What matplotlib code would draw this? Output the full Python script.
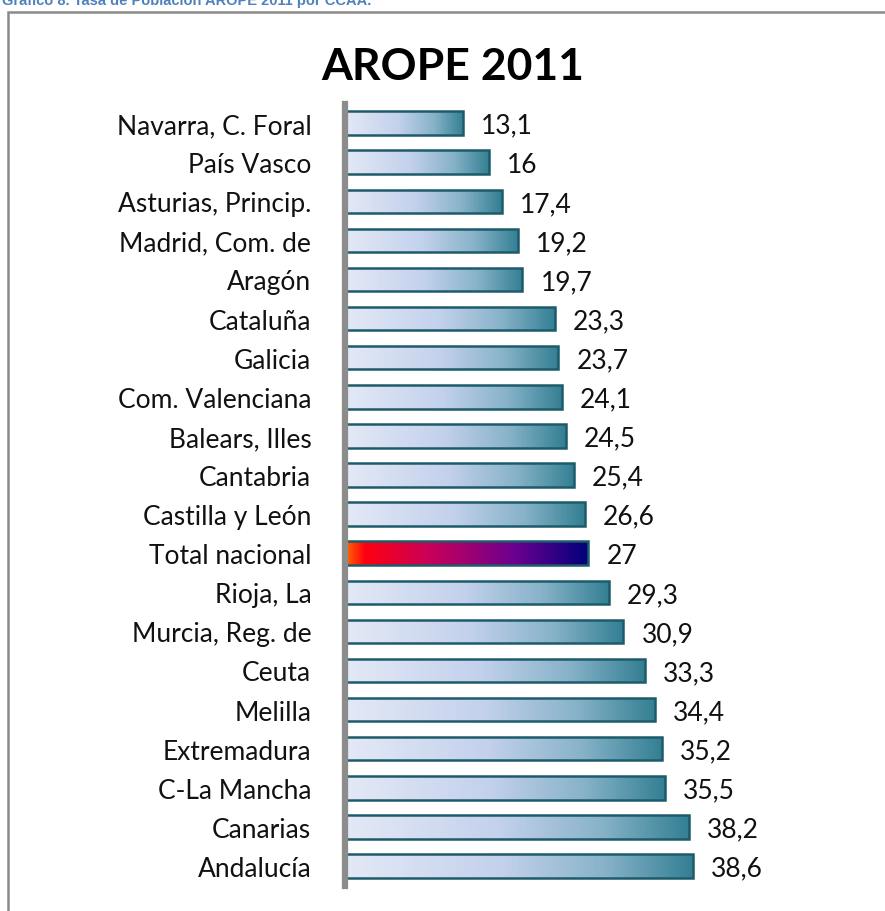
import numpy as np
import matplotlib
matplotlib.use("Agg")
import matplotlib.pyplot as plt
from matplotlib.colors import LinearSegmentedColormap
from matplotlib.patches import Rectangle

plt.rcParams['font.family'] = ['Lato', 'DejaVu Sans']

regiones = ["Navarra, C. Foral", "País Vasco", "Asturias, Princip.", "Madrid, Com. de",
            "Aragón", "Cataluña", "Galicia", "Com. Valenciana", "Balears, Illes",
            "Cantabria", "Castilla y León", "Total nacional", "Rioja, La",
            "Murcia, Reg. de", "Ceuta", "Melilla", "Extremadura", "C-La Mancha",
            "Canarias", "Andalucía"]
valores = [13.1, 16, 17.4, 19.2, 19.7, 23.3, 23.7, 24.1, 24.5, 25.4, 26.6, 27,
           29.3, 30.9, 33.3, 34.4, 35.2, 35.5, 38.2, 38.6]
etiquetas = ["13,1", "16", "17,4", "19,2", "19,7", "23,3", "23,7", "24,1", "24,5",
             "25,4", "26,6", "27", "29,3", "30,9", "33,3", "34,4", "35,2", "35,5",
             "38,2", "38,6"]

azul = LinearSegmentedColormap.from_list(
    "azul", [(0, "#e4e9f6"), (0.45, "#c3d1ec"), (0.75, "#86b2c8"), (1, "#337f93")])
total = LinearSegmentedColormap.from_list(
    "total", [(0, "#ff6a00"), (0.08, "#ff0010"), (0.35, "#c8005a"), (0.7, "#6a0090"), (1, "#00007a")])

fig = plt.figure(figsize=(8.85, 9.12), dpi=100)
ax = fig.add_axes([0.3895, 0.0279, 0.5095, 0.8575])

y = np.arange(len(regiones))
bars = ax.barh(y, valores, height=0.6, facecolor="none", edgecolor="#1d5b6b",
               linewidth=1.8, zorder=3)
grad = np.linspace(0, 1, 256).reshape(1, -1)
for i, b in enumerate(bars):
    cmap = total if regiones[i] == "Total nacional" else azul
    x0, y0, w, h = b.get_x(), b.get_y(), b.get_width(), b.get_height()
    im = ax.imshow(grad, cmap=cmap, aspect="auto", extent=[x0, x0 + w, y0, y0 + h],
                   zorder=2, interpolation="bicubic")
    im.set_clip_path(b)
    ax.annotate(etiquetas[i], (valores[i], i), xytext=(13, -1.5), textcoords="offset points",
                va="center", ha="left", fontsize=19, color="#111111")

ax.set_xlim(0, 50)
ax.set_ylim(len(regiones) - 0.5, -0.5)
ax.set_yticks(y)
ax.set_yticklabels(regiones, fontsize=19, color="#111111")
ax.tick_params(axis="y", length=0, pad=24)
ax.set_xticks([])
for s in ["top", "right", "bottom"]:
    ax.spines[s].set_visible(False)
ax.spines["left"].set_color("#8c8c8c")
ax.spines["left"].set_linewidth(4.5)
ax.spines["left"].set_zorder(5)

fig.text(0.511, 1 - 67 / 912, "AROPE 2011", ha="center", va="center", fontsize=32,
         fontweight="bold", color="#000000")
fig.text(0.002, 1 - 5 / 912, "Gráfico 8. Tasa de Población AROPE 2011 por CCAA.",
         ha="left", va="baseline", fontsize=10.5, fontweight="bold", color="#4f81bd",
         family=["Liberation Sans", "DejaVu Sans"])
fig.patches.append(Rectangle((8 / 885, -0.05), 1.1, 1 - 13 / 912 + 0.05,
                             transform=fig.transFigure, fill=False,
                             edgecolor="#8a8a8a", linewidth=1.8))

fig.savefig("out.png", dpi=100)
